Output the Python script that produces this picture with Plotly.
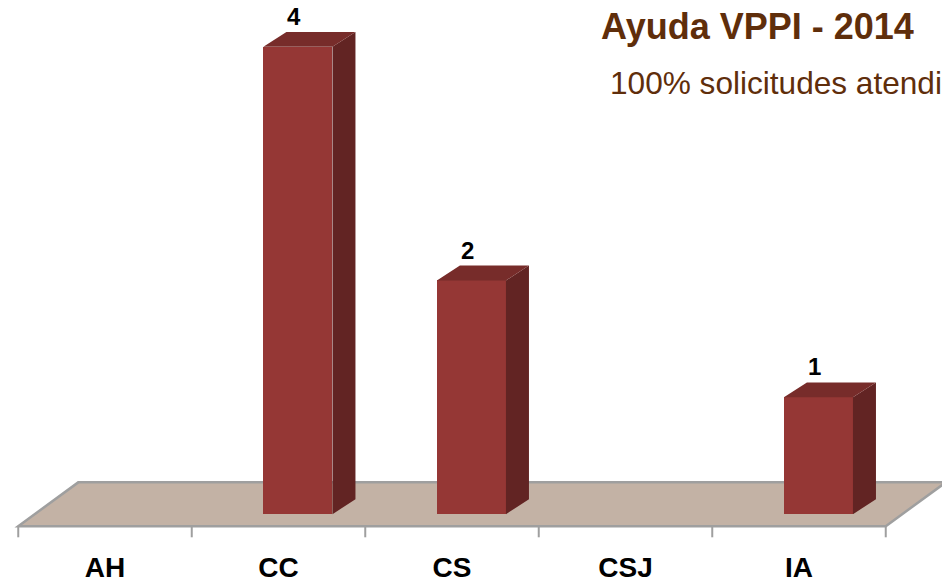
import plotly.graph_objects as go

# ---- data ----
categories = ["AH", "CC", "CS", "CSJ", "IA"]
values = [0, 4, 2, 0, 1]
title_text = "Ayuda VPPI - 2014"
subtitle_text = "100% solicitudes atendidas"

# ---- style ----
FRONT = "#953735"
SIDE = "#622423"
TOP = "#772c2a"
FLOOR = "#c3b2a5"
EDGE = "#9f9f9f"
BROWN = "#5f2e0b"
LABEL_FONT = "Liberation Sans Narrow, Arial Narrow, Liberation Sans, sans-serif"
TITLE_FONT = "Liberation Sans, Arial, sans-serif"

W, H = 942, 583
xpos = list(range(len(categories)))
bar_w = 0.398          # front face width (category units)
bar_off = 0.112        # front face centre offset from category centre
ddx, ddy = 0.1326, 0.127    # bar depth projection
fdx, fdy = 0.3458, 0.375    # floor depth projection
floor_front = -0.103

fig = go.Figure()

# floor (drawn below traces)
x0 = xpos[0] - 0.5
x1 = xpos[-1] + 0.5
fb = floor_front + fdy
floor_path = (f"M {x0} {floor_front} L {x1} {floor_front} L {x1 + fdx} {fb} "
              f"L {x0 + fdx} {fb} Z")
fig.add_shape(type="path", path=floor_path, xref="x", yref="y",
              fillcolor=FLOOR, line=dict(color=EDGE, width=2.5), layer="below")

# tick marks at category boundaries
tick_len = 0.095
for b in [p - 0.5 for p in xpos] + [xpos[-1] + 0.5]:
    fig.add_shape(type="line", xref="x", yref="y", x0=b, x1=b,
                  y0=floor_front, y1=floor_front - tick_len,
                  line=dict(color=EDGE, width=2), layer="below")

# front faces
fig.add_trace(go.Bar(
    x=[p + bar_off for p in xpos], y=values, width=bar_w,
    marker=dict(color=FRONT, line=dict(width=0)),
    hoverinfo="skip", showlegend=False))

# side and top faces
sx, sy, tx, ty = [], [], [], []
for p, v in zip(xpos, values):
    if v <= 0:
        continue
    l = p + bar_off - bar_w / 2
    r = p + bar_off + bar_w / 2
    sx += [r, r + ddx, r + ddx, r, r, None]
    sy += [0, ddy, v + ddy, v, 0, None]
    tx += [l, r, r + ddx, l + ddx, l, None]
    ty += [v, v, v + ddy, v + ddy, v, None]

fig.add_trace(go.Scatter(x=sx, y=sy, mode="lines", fill="toself",
                         fillcolor=SIDE, line=dict(width=0, color=SIDE),
                         hoverinfo="skip", showlegend=False))
fig.add_trace(go.Scatter(x=tx, y=ty, mode="lines", fill="toself",
                         fillcolor=TOP, line=dict(width=0, color=TOP),
                         hoverinfo="skip", showlegend=False))

# value labels
for p, v in zip(xpos, values):
    if v <= 0:
        continue
    fig.add_annotation(x=p + bar_off - 0.02, y=v + ddy, text=f"<b>{v}</b>",
                       showarrow=False, yanchor="bottom", yshift=0,
                       font=dict(family=LABEL_FONT, size=24, color="black"))

plot_h = 545
fig.add_annotation(xref="paper", yref="paper", x=757 / W, y=1 - 27 / plot_h,
                   xanchor="center", yanchor="middle", showarrow=False,
                   text=f"<b>{title_text}</b>",
                   font=dict(family=TITLE_FONT, size=36, color=BROWN))
fig.add_annotation(xref="paper", yref="paper", x=608 / W, y=1 - 83 / plot_h,
                   xanchor="left", yanchor="middle", showarrow=False,
                   text=subtitle_text,
                   font=dict(family=TITLE_FONT, size=31.6, color=BROWN))

px0 = 105.0
unit_x = 173.5
y_base = 517.0
unit_y = 117.5
fig.update_layout(
    width=W, height=H,
    margin=dict(l=0, r=0, t=0, b=H - plot_h),
    paper_bgcolor="white", plot_bgcolor="white",
    bargap=0,
    xaxis=dict(range=[-px0 / unit_x, (W - px0) / unit_x],
               tickmode="array", tickvals=xpos,
               ticktext=[f"<b>{c}</b>" for c in categories],
               tickfont=dict(family=LABEL_FONT, size=28, color="black"),
               showgrid=False, zeroline=False, showline=False, ticks="",
               ticklabelstandoff=6, fixedrange=True),
    yaxis=dict(range=[(y_base - plot_h) / unit_y, y_base / unit_y],
               visible=False, showgrid=False, zeroline=False, fixedrange=True),
)

fig.write_html("out.html",
               config={"displayModeBar": False},
               post_script="document.body.style.margin='0px';"
                           "document.body.style.overflow='hidden';")
